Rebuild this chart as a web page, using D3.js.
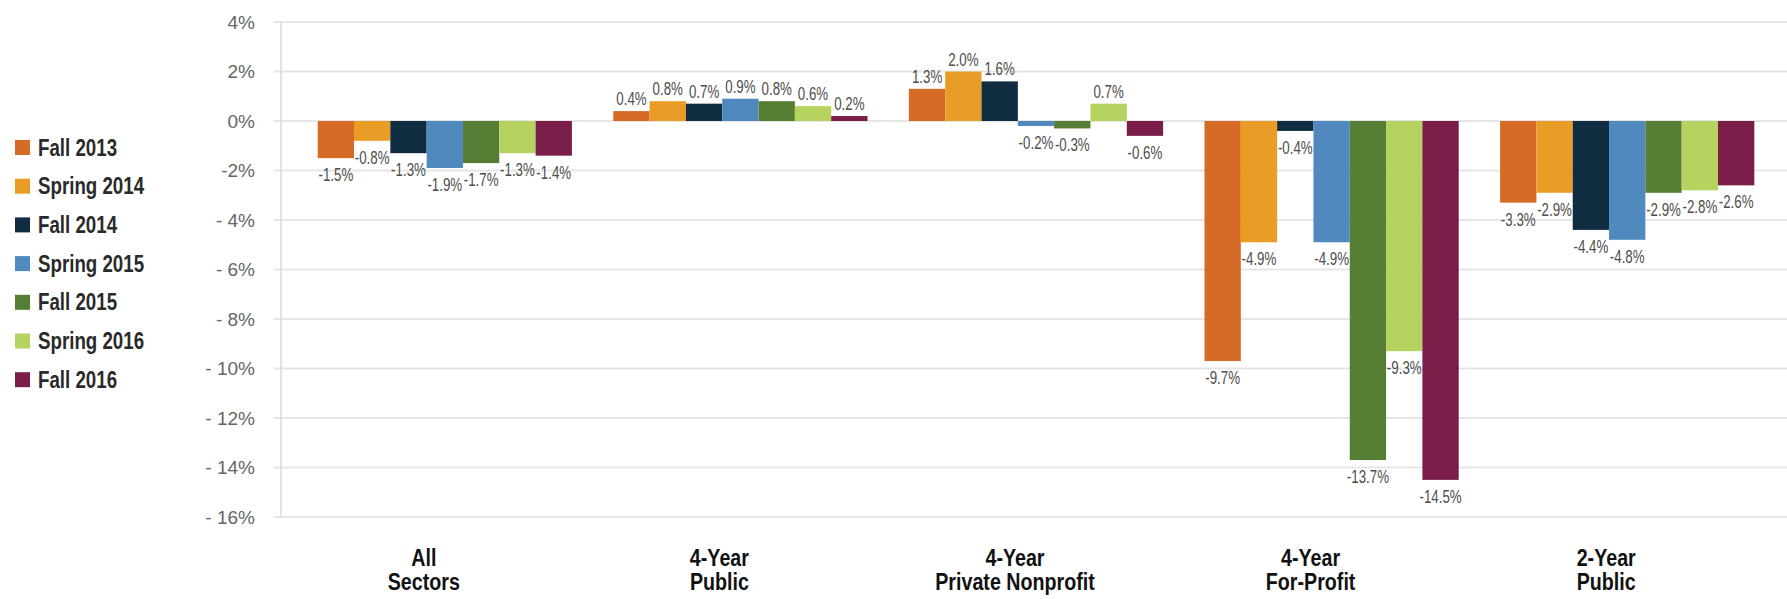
<!DOCTYPE html>
<html>
<head>
<meta charset="utf-8">
<script src="https://cdn.jsdelivr.net/npm/d3@7"></script>
<style>
  body { margin: 0; background: #fff; }
  svg text { font-family: "Liberation Sans", Arial, sans-serif; }
</style>
</head>
<body>
<svg id="chart"></svg>
<script>
var categories = [["All", "Sectors"], ["4-Year", "Public"], ["4-Year", "Private Nonprofit"], ["4-Year", "For-Profit"], ["2-Year", "Public"]];
var terms = ["Fall 2013", "Spring 2014", "Fall 2014", "Spring 2015", "Fall 2015", "Spring 2016", "Fall 2016"];

// percent change, one array per term, in category order
var fall2013   = [-1.5, 0.4, 1.3, -9.7, -3.3];
var spring2014 = [-0.8, 0.8, 2.0, -4.9, -2.9];
var fall2014   = [-1.3, 0.7, 1.6, -0.4, -4.4];
var spring2015 = [-1.9, 0.9, -0.2, -4.9, -4.8];
var fall2015   = [-1.7, 0.8, -0.3, -13.7, -2.9];
var spring2016 = [-1.3, 0.6, 0.7, -9.3, -2.8];
var fall2016   = [-1.4, 0.2, -0.6, -14.5, -2.6];

var yTicks = [4, 2, 0, -2, -4, -6, -8, -10, -12, -14, -16];
var yTickLabels = ["4%", "2%", "0%", "-2%", "- 4%", "- 6%", "- 8%", "- 10%", "- 12%", "- 14%", "- 16%"];

var colors = ["#d66b27", "#e99d26", "#0f2c40", "#5089bd", "#557e34", "#b6d25f", "#7a1d48"];

var series = [fall2013, spring2014, fall2014, spring2015, fall2015, spring2016, fall2016];

var width = 1787, height = 599;
var svg = d3.select("#chart")
    .attr("width", width)
    .attr("height", height);

var catKeys = categories.map(function(d) { return d.join(" "); });

var x0 = d3.scaleBand()
    .domain(catKeys)
    .range([297, 1775])
    .paddingInner(0.14)
    .paddingOuter(0.07);

var x1 = d3.scaleBand()
    .domain(terms)
    .range([0, x0.bandwidth()]);

var y = d3.scaleLinear()
    .domain([-16, 4])
    .range([517, 22]);

// gridlines
svg.append("g")
    .selectAll("line")
    .data(yTicks)
    .enter().append("line")
    .attr("x1", 274)
    .attr("x2", width)
    .attr("y1", function(d) { return y(d); })
    .attr("y2", function(d) { return y(d); })
    .style("stroke", "#e6e6e6")
    .style("stroke-width", 2);

svg.append("line")
    .attr("x1", 281).attr("x2", 281)
    .attr("y1", y(4)).attr("y2", y(-16))
    .style("stroke", "#d8d8d8")
    .style("stroke-width", 1.5);

// y axis labels
var yAxis = d3.axisLeft(y)
    .tickValues(yTicks)
    .tickSize(0)
    .tickPadding(0)
    .tickFormat(function(d, i) { return yTickLabels[i]; });

var yg = svg.append("g")
    .attr("transform", "translate(255,0)")
    .call(yAxis);
yg.select(".domain").remove();
yg.selectAll("text")
    .style("font-family", "'Liberation Sans', Arial, sans-serif")
    .style("font-size", "19px")
    .style("fill", "#666");

// bars
var rows = [];
categories.forEach(function(c, ci) {
    series.forEach(function(s, si) {
        rows.push({ cat: catKeys[ci], term: terms[si], si: si, value: s[ci] });
    });
});

function barMid(d) { return x0(d.cat) + x1(d.term) + x1.bandwidth() / 2; }

svg.append("g")
    .selectAll("rect")
    .data(rows)
    .enter().append("rect")
    .attr("x", function(d) { return x0(d.cat) + x1(d.term); })
    .attr("width", x1.bandwidth())
    .attr("y", function(d) { return y(Math.max(0, d.value)); })
    .attr("height", function(d) { return Math.abs(y(d.value) - y(0)); })
    .style("fill", function(d) { return colors[d.si]; });

// value labels (condensed look via horizontal scale)
svg.append("g")
    .selectAll("text")
    .data(rows)
    .enter().append("text")
    .attr("transform", function(d) {
        var ty = d.value >= 0 ? y(d.value) - 6 : y(d.value) + 23;
        return "translate(" + barMid(d) + "," + ty + ") scale(0.74,1)";
    })
    .attr("text-anchor", "middle")
    .style("font-size", "18px")
    .style("fill", "#4d4d4d")
    .text(function(d) { return d.value.toFixed(1) + "%"; });

// category labels
var cl = svg.append("g")
    .selectAll("text")
    .data(categories)
    .enter().append("text")
    .attr("transform", function(d, i) {
        return "translate(" + (x0(catKeys[i]) + x0.bandwidth() / 2 - 21) + ",566) scale(0.82,1)";
    })
    .attr("text-anchor", "middle")
    .style("font-size", "24px")
    .style("font-weight", "bold")
    .style("fill", "#111");
cl.append("tspan")
    .attr("x", 0)
    .text(function(d) { return d[0]; });
cl.append("tspan")
    .attr("x", 0)
    .attr("dy", 24)
    .text(function(d) { return d[1]; });

// legend
var legend = svg.append("g")
    .selectAll("g")
    .data(terms)
    .enter().append("g")
    .attr("transform", function(d, i) { return "translate(15," + (147 + i * 38.7) + ")"; });
legend.append("rect")
    .attr("x", 0).attr("y", -7)
    .attr("width", 15).attr("height", 15)
    .style("fill", function(d, i) { return colors[i]; });
legend.append("text")
    .attr("transform", "translate(23,8.5) scale(0.78,1)")
    .style("font-size", "24px")
    .style("font-weight", "bold")
    .style("fill", "#2a2a2a")
    .text(function(d) { return d; });
</script>
</body>
</html>
